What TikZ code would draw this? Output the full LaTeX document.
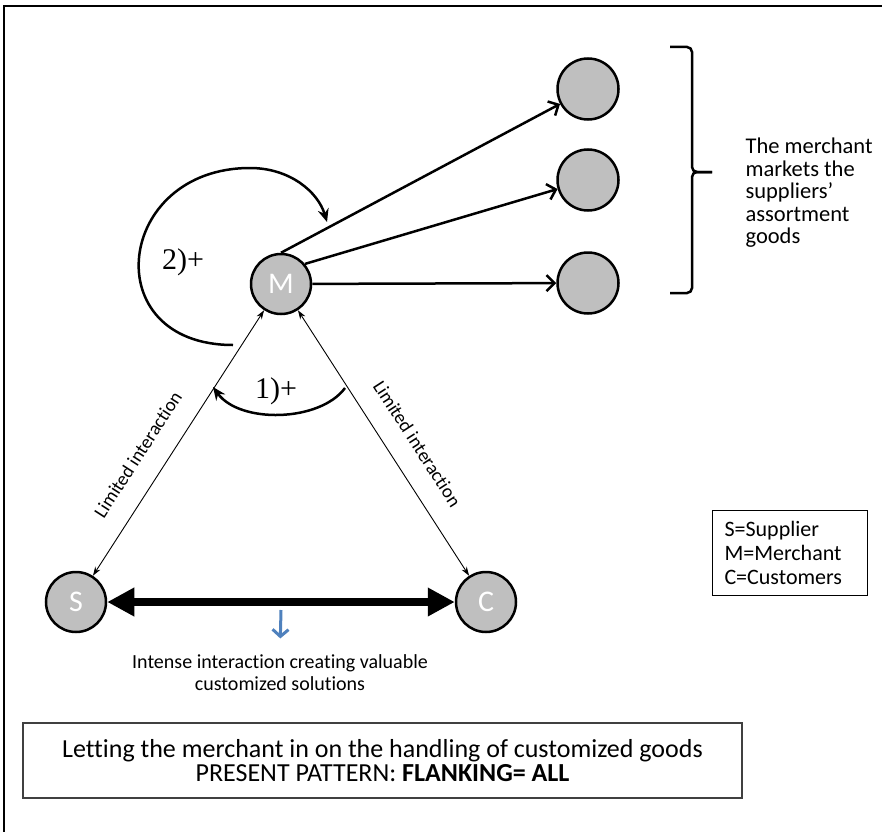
\documentclass[tikz,border=0pt]{standalone}
\usepackage{fontspec}
\setmainfont{Carlito}[Ligatures=NoCommon]
\newfontfamily\plusfont{Liberation Serif}
\usetikzlibrary{arrows.meta, positioning, calc}

\definecolor{discgray}{RGB}{191,191,191}
\definecolor{hintblue}{RGB}{79,129,189}

\tikzset{
    party/.style={circle, draw, line width=2.5pt, fill=discgray, minimum size=60pt, inner sep=0pt,
        text=white, font=\fontsize{30}{30}\selectfont},
    goods/.style={circle, draw, line width=2.5pt, fill=discgray, minimum size=61pt, inner sep=0pt},
    market/.style={line width=2.5pt, -{Straight Barb[length=8pt, width=16pt]}},
    loopy/.style={line width=2.5pt, -{Stealth[length=13pt, width=11pt]}},
    limited/.style={line width=0.9pt, {Stealth[length=9pt, width=6pt]}-{Stealth[length=9pt, width=6pt]}},
    limitlabel/.style={sloped, above=21pt, inner sep=0pt, font=\fontsize{19}{19}\selectfont},
    plus/.style={font=\plusfont\fontsize{30}{30}\selectfont}
}

\begin{document}
\begin{tikzpicture}[x=1pt, y=-1pt]
                        \useasboundingbox (0,0) rectangle (882,832);
                        \draw[line width=2pt] (882,6) -- (4,6) -- (4,832);

                        \node[party] (m) at (281, 284) {M};
                        \node[party] (s) at (76, 602) {S};
                        \node[party] (c) at (486, 602) {C};

                        \node[goods] (g1) at (588, 89) {};
                        \node[goods] (g2) at (588, 180) {};
                        \node[goods] (g3) at (588, 283) {};

                        \draw
                        (m.north) edge[market] (g1)
                        (m.40) edge[market] (g2)
                        (m) edge[market] (g3);

                        % brace round the goods
                        \draw[line width=2.5pt, rounded corners=5pt] (670, 47) -- (692, 47) -- (692, 172) -- (712, 172);
                        \draw[line width=2.5pt, rounded corners=5pt] (712, 172) -- (692, 172) -- (692, 293) -- (670, 293);
                        \node[anchor=west, align=left, font=\fontsize{22.5}{22.5}\selectfont] (note) at (742, 193)
                            {The merchant\\markets the\\suppliers'\\assortment\\goods};

                        \draw
                        (s) edge[limited] node[limitlabel, pos=0.4] {Limited interaction} (m)
                        (m) edge[limited] node[limitlabel, pos=0.56] {Limited interaction} (c);

                        \draw[line width=8pt, {Triangle[length=27pt, width=27pt]}-{Triangle[length=27pt, width=27pt]}] (s) -- (c);

                        % 2)+ loop and 1)+ turn
                        \coordinate (loopa) at (233, 345);
                        \coordinate (loopb) at (327, 222);
                        \draw[loopy] (loopa) .. controls (95, 345) and (115, 168) .. (250, 168)
                            .. controls (290, 168) and (318, 192) .. (loopb);
                        \node[plus] (two) at (183, 262) {2)+};

                        \coordinate (onea) at (345, 388);
                        \coordinate (oneb) at (213, 387);
                        \draw[loopy] (onea) .. controls (320, 422) and (240, 424) .. (oneb);
                        \node[plus] (one) at (276, 391) {1)+};

                        \coordinate (mid) at (281, 610);
                        \node[align=center, font=\fontsize{20}{22}\selectfont] (intense) at (280, 673)
                            {Intense interaction creating valuable\\customized solutions};
                        \draw[line width=3pt, hintblue, -{Straight Barb[length=7pt, width=16pt]}, shorten >=13pt] (mid) -- (intense.north);

                        \node[draw, line width=1pt, anchor=north west, align=left, text width=131pt, inner xsep=12pt,
                            minimum height=85pt, font=\fontsize{22}{24}\selectfont] (legend) at (712, 510)
                            {S=Supplier\\M=Merchant\\C=Customers};

                        \node[draw=black!75, line width=1.5pt, minimum width=719pt, minimum height=75pt, align=center,
                            font=\fontsize{26}{24}\selectfont] (pattern) at (382.5, 760.5)
                            {Letting the merchant in on the handling of customized goods\\PRESENT PATTERN: \textbf{FLANKING= ALL}};
                    \end{tikzpicture}
\end{document}
